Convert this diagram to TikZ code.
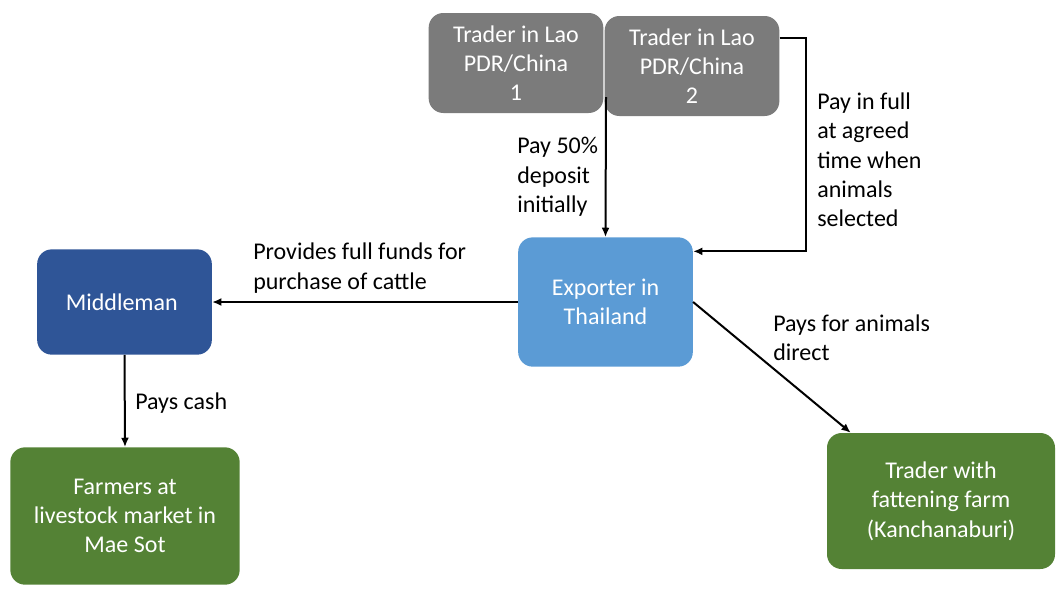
\documentclass[tikz,border=0pt]{standalone}
\usepackage{fontspec}
\setmainfont{Carlito}
\usetikzlibrary{arrows.meta,positioning,calc,shapes}
\definecolor{tradergray}{HTML}{7B7B7B}
\definecolor{exportblue}{HTML}{5B9BD5}
\definecolor{middleblue}{HTML}{2F5597}
\definecolor{farmgreen}{HTML}{548235}

\begin{document}
\begin{tikzpicture}[>={Latex[length=7pt,width=6pt]},x=0.75pt,y=-0.75pt,
  box/.style={rectangle,rounded corners=11pt,align=center,text=white,
    font=\fontsize{18}{22}\selectfont,inner sep=0pt},
  lbl/.style={align=left,anchor=west,inner sep=0pt,
    font=\fontsize{18}{22}\selectfont},
  pay/.style={->,line width=1.5pt}]
\useasboundingbox (0,0) rectangle (1056,590);

%Traders in Lao PDR/China
\node[box,fill=tradergray,minimum width=131pt,minimum height=75pt] (t1) at (516,63) {
Trader in Lao\\PDR/China\\1
};
\node[box,fill=tradergray,minimum width=131pt,minimum height=75pt] (t2) at (692,66) {
Trader in Lao\\PDR/China\\2
};

%Exporter
\node[box,fill=exportblue,minimum width=131pt,minimum height=97pt] (exp) at (605.5,302) {
Exporter in\\Thailand
};

%Middleman
\node[box,fill=middleblue,minimum width=131pt,minimum height=79pt] (mid) at (124.5,302) {
Middleman
};

%Farmers
\node[box,fill=farmgreen,minimum width=172pt,minimum height=103pt] (farm) at (125,516) {
Farmers at\\livestock market in\\Mae Sot
};

%Fattening farm
\node[box,fill=farmgreen,minimum width=171pt,minimum height=102pt] (fat) at (941,501) {
Trader with\\fattening farm\\(Kanchanaburi)
};

% payments
\coordinate (split) at (606,97);
\draw[pay] (split) -- (exp.north);
\draw[pay] ([yshift=21pt]t2.east) -- ++(26,0) |- ([yshift=38pt]exp.east);
\draw[pay] (exp.west) -- (mid.east);
\draw[pay] (mid.south) -- (farm.north);
\draw[pay] (exp.east) -- ([xshift=18pt]fat.north west);

% labels
\node[lbl] (l50) at (517,177) {Pay 50\%\\deposit\\initially};
\node[lbl] (lfull) at (817,160) {Pay in full\\at agreed\\time when\\animals\\selected};
\node[lbl] (lfunds) at (253,268) {Provides full funds for\\purchase of cattle};
\node[lbl] (lcash) at (135,403) {Pays cash};
\node[lbl] (ldirect) at (773,338) {Pays for animals\\direct};

\end{tikzpicture}
\end{document}
